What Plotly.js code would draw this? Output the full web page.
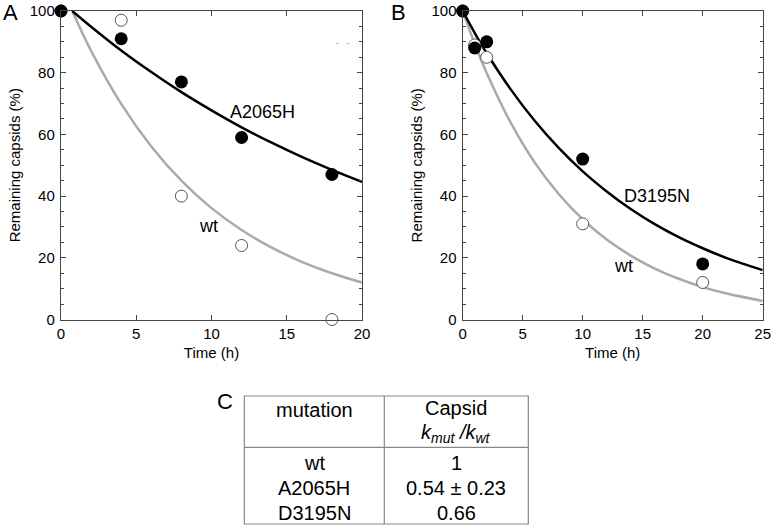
<!DOCTYPE html>
<html>
<head>
<meta charset="utf-8">
<script src="https://cdn.plot.ly/plotly-3.0.1.min.js"></script>
<style>html,body{margin:0;padding:0;background:#fff;}#chart{width:771px;height:527px;}</style>
</head>
<body>
<div id="chart"></div>
<script>
// ---- Panel A data ----
const aTimeMut = [0, 4, 8, 12, 18];
const aMut = [100, 91, 77, 59, 47];
const aTimeWt = [0, 4, 8, 12, 18];
const aWt = [100, 97, 40, 24, 0];
// fitted curves
const aFitX = [0.75, 2, 4, 6, 8, 10, 12, 14, 16, 18, 20];
const aFitMut = [100, 94.9, 87.2, 80.2, 73.7, 67.8, 62.3, 57.3, 52.7, 48.5, 44.6];
const aFitWt = [100, 87.1, 69.9, 56.1, 45.0, 36.1, 29.0, 23.3, 18.7, 15.0, 12.0];

// ---- Panel B data ----
const bTimeMut = [0, 1, 2, 10, 20];
const bMut = [100, 88, 90, 52, 18];
const bTimeWt = [0, 1, 2, 10, 20];
const bWt = [100, 89, 85, 31, 12];
const bFitX = [0, 1, 2, 4, 6, 8, 10, 12, 14, 16, 18, 20, 22, 25];
const bFitMut = [100, 92.9, 86.3, 74.6, 64.4, 55.6, 48.0, 41.5, 35.8, 30.9, 26.7, 23.1, 19.9, 16.0];
const bFitWt = [100, 89.4, 79.9, 63.8, 50.9, 40.7, 32.5, 25.9, 20.7, 16.5, 13.2, 10.5, 8.4, 6.0];

// ---- Panel C table ----
const tableHeaderLeft = "mutation";
const tableHeaderRight = ["Capsid", "<i>k</i><sub><i>mut</i></sub><i> /k</i><sub><i>wt</i></sub>"];
const tableMutations = ["wt", "A2065H", "D3195N"];
const tableRatios = ["1", "0.54 \u00b1 0.23", "0.66"];

const W = 771, H = 527;
const px = x => x / W;
const py = y => 1 - y / H;

const FONT = "Liberation Sans, Arial, sans-serif";
const BLACK = "#000000";
const GRAY = "#aaaaaa";

function fit(x, y, color, xa, ya) {
  return {x: x, y: y, mode: "lines", type: "scatter", xaxis: xa, yaxis: ya,
          line: {color: color, width: 2.5, shape: "spline", smoothing: 1}, hoverinfo: "skip", showlegend: false};
}
function pts(x, y, filled, xa, ya) {
  return {x: x, y: y, mode: "markers", type: "scatter", xaxis: xa, yaxis: ya, cliponaxis: false,
          marker: filled ? {size: 13, color: BLACK, line: {width: 0}} :
                           {size: 12, color: "#ffffff", line: {color: "#555555", width: 1}},
          showlegend: false};
}

const traces = [
  fit(aFitX, aFitWt, GRAY, "x", "y"),
  fit(aFitX, aFitMut, BLACK, "x", "y"),
  pts(aTimeWt, aWt, false, "x", "y"),
  pts(aTimeMut, aMut, true, "x", "y"),
  fit(bFitX, bFitWt, GRAY, "x2", "y2"),
  fit(bFitX, bFitMut, BLACK, "x2", "y2"),
  pts(bTimeWt, bWt, false, "x2", "y2"),
  pts(bTimeMut, bMut, true, "x2", "y2")
];

function xax(domain, range, anchor) {
  return {domain: domain, range: range, anchor: anchor, dtick: 5, tick0: 0,
          ticks: "inside", ticklen: 5, tickwidth: 1, tickcolor: "#444",
          showline: true, linecolor: "#444", linewidth: 1.2, mirror: "ticks",
          showgrid: false, zeroline: false, ticklabeloverflow: "allow",
          tickfont: {family: FONT, size: 15, color: BLACK},
          title: {text: "Time (h)", font: {family: FONT, size: 15, color: BLACK}, standoff: 6}};
}
function yax(domain, anchor) {
  return {domain: domain, range: [0, 100], anchor: anchor, dtick: 20, tick0: 0,
          ticks: "inside", ticklen: 5, tickwidth: 1, tickcolor: "#444",
          minor: {dtick: 5, ticks: "inside", ticklen: 3, tickcolor: "#444", showgrid: false},
          showline: true, linecolor: "#444", linewidth: 1.2, mirror: "ticks",
          showgrid: false, zeroline: false, ticklabeloverflow: "allow", ticklabelstandoff: 2,
          tickfont: {family: FONT, size: 15, color: BLACK},
          title: {text: "Remaining capsids (%)", font: {family: FONT, size: 15, color: BLACK}, standoff: 5}};
}

const yDom = [py(319.5), py(11)];
const layout = {
  width: W, height: H, margin: {l: 0, r: 0, t: 0, b: 0},
  paper_bgcolor: "#ffffff", plot_bgcolor: "#ffffff",
  font: {family: FONT, color: BLACK},
  showlegend: false,
  xaxis: xax([px(61), px(362)], [0, 20], "y"),
  yaxis: yax(yDom, "x"),
  xaxis2: xax([px(462.7), px(762.7)], [0, 25], "y2"),
  yaxis2: yax(yDom, "x2"),
  shapes: [],
  annotations: []
};

const ann = layout.annotations;
function note(xref, yref, x, y, text, font) {
  ann.push({xref: xref, yref: yref, x: x, y: y, text: text, showarrow: false,
            xanchor: "center", yanchor: "middle", font: font});
}
const LF = {family: FONT, size: 18, color: BLACK};
// curve labels
note("x", "y", 13.4, 67.2, "A2065H", LF);
note("x", "y", 9.77, 30.2, "wt", LF);
note("x2", "y2", 16.2, 40.1, "D3195N", LF);
note("x2", "y2", 13.36, 17.2, "wt", LF);
note("x", "y", 18.75, 89.6, "-   -", {family: FONT, size: 9, color: "#999999"});
// panel letters
const PF = {family: FONT, size: 22, color: BLACK};
note("paper", "paper", px(10), py(12), "A", PF);
note("paper", "paper", px(398), py(12), "B", PF);
note("paper", "paper", px(225), py(401), "C", PF);

// table
const tL = 244.3, tR = 528.3, tT = 396, tB = 524, tMid = 384.3, tHead = 447.3;
const lineStyle = {color: "#888888", width: 1.2};
layout.shapes.push({type: "rect", xref: "paper", yref: "paper", x0: px(tL), x1: px(tR), y0: py(tB), y1: py(tT), line: lineStyle});
layout.shapes.push({type: "line", xref: "paper", yref: "paper", x0: px(tMid), x1: px(tMid), y0: py(tB), y1: py(tT), line: lineStyle});
layout.shapes.push({type: "line", xref: "paper", yref: "paper", x0: px(tL), x1: px(tR), y0: py(tHead), y1: py(tHead), line: lineStyle});
const c1 = (tL + tMid) / 2, c2 = (tMid + tR) / 2;
const TF = {family: FONT, size: 20, color: BLACK};
note("paper", "paper", px(c1), py(410), tableHeaderLeft, TF);
note("paper", "paper", px(c2), py(408), tableHeaderRight[0], TF);
note("paper", "paper", px(c2), py(433), tableHeaderRight[1], TF);
const rowY = [463, 488, 513];
for (let i = 0; i < tableMutations.length; i++) {
  note("paper", "paper", px(c1), py(rowY[i]), tableMutations[i], TF);
  note("paper", "paper", px(c2), py(rowY[i]), tableRatios[i], TF);
}

Plotly.newPlot("chart", traces, layout, {displayModeBar: false, staticPlot: true});
</script>
</body>
</html>
